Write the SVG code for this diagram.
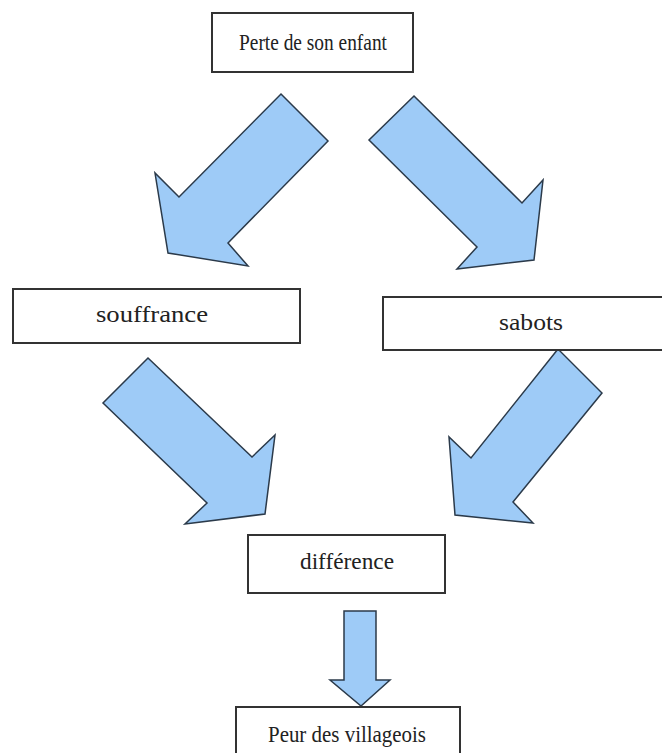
<svg xmlns="http://www.w3.org/2000/svg" width="662" height="753" viewBox="0 0 662 753">
<style>
.box{fill:#fff;stroke:#333;stroke-width:2}
.lbl{font-family:"Liberation Serif","Times New Roman",serif;font-size:24px;fill:#222;text-anchor:middle}
.arr{fill:#9ecbf7;stroke:#2b3a4a;stroke-width:1.5;stroke-linejoin:miter}
</style>
<rect width="662" height="753" fill="#fff"/>
<g id="connectors">
<polygon class="arr" points="281,94 328,141 228,243 248,266 168,253 155,173 179,197"/>
<polygon class="arr" points="414,96 522,203 543,180 534,260 457,269 477,247 369,140"/>
<polygon class="arr" points="148,358 252,457 275,435 265,514 185,524 207,503 103,403"/>
<polygon class="arr" points="558,349 471,458 449,437 455,515 533,523 513,502 602,393"/>
<polygon class="arr" points="344,611 376,611 376,680 390,680 361,706 330,680 344,680"/>
</g>
<g id="n1"><rect class="box" x="212" y="13" width="201" height="59"/><text class="lbl" x="313" y="50" textLength="148" lengthAdjust="spacingAndGlyphs">Perte de son enfant</text></g>
<g id="n2"><rect class="box" x="13" y="289" width="287" height="54"/><text class="lbl" x="152" y="322" textLength="112" lengthAdjust="spacingAndGlyphs">souffrance</text></g>
<g id="n3"><rect class="box" x="383" y="297" width="282" height="53"/><text class="lbl" x="531" y="330" textLength="64" lengthAdjust="spacingAndGlyphs">sabots</text></g>
<g id="n4"><rect class="box" x="248" y="535" width="197" height="58"/><text class="lbl" x="347" y="569" textLength="94" lengthAdjust="spacingAndGlyphs">différence</text></g>
<g id="n5"><rect class="box" x="236" y="707" width="224" height="50"/><text class="lbl" x="347" y="742" textLength="158" lengthAdjust="spacingAndGlyphs">Peur des villageois</text></g>
</svg>
